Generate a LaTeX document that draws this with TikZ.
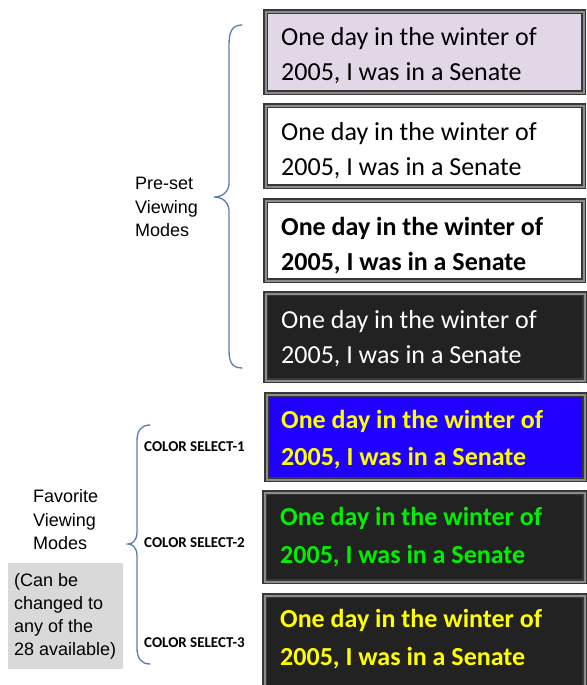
\documentclass[tikz,border=0pt]{standalone}
\usepackage{fontspec}
\setmainfont{Carlito}
\newfontfamily\arialf{Liberation Sans}
\definecolor{lav}{RGB}{226,215,230}
\definecolor{dk}{RGB}{34,34,34}
\definecolor{bl}{RGB}{32,0,255}
\definecolor{ye}{RGB}{255,255,0}
\definecolor{gr}{RGB}{0,240,0}
\definecolor{brc}{RGB}{90,125,175}
\definecolor{gbox}{RGB}{217,217,217}
\begin{document}
\begin{tikzpicture}[x=1pt,y=-1pt,
  panel/.style={rectangle, draw=black!78, line width=1.3pt, double=black!45, double distance=1.8pt, anchor=north west, inner sep=0pt},
  ptext/.style={anchor=base west, inner sep=0pt, font=\fontsize{26}{35}\selectfont},
  btext/.style={ptext, font=\fontsize{26}{35}\selectfont\bfseries},
  label/.style={anchor=west, align=left, inner sep=0pt, font=\arialf\fontsize{18}{23.5}\selectfont, text=black},
  csel/.style={anchor=west, inner sep=0pt, font=\fontsize{15}{18}\selectfont\bfseries, text=black},
  brace/.style={draw=brc, line width=1.3pt, line cap=round}]
\useasboundingbox (0,0) rectangle (586,685);
% panels
\node[panel, fill=lav,   minimum width=318pt, minimum height=81pt] (b1) at (265,11) {};
\node[panel, fill=white, minimum width=318pt, minimum height=81pt] (b2) at (265,105) {};
\node[panel, fill=white, minimum width=318pt, minimum height=80pt] (b3) at (265,200) {};
\node[panel, fill=dk,    minimum width=319pt, minimum height=87pt] (b4) at (265,293) {};
\node[panel, fill=bl,    minimum width=318pt, minimum height=85pt] (b5) at (266,394) {};
\node[panel, fill=dk,    minimum width=320pt, minimum height=89pt] (b6) at (264,492) {};
\node[panel, fill=dk,    minimum width=320pt, minimum height=105pt] (b7) at (264,595) {};
% panel texts
\node[ptext] (t1a) at ([shift={(16,35)}]b1.north west) {One day in the winter of};
\node[ptext] (t1b) at ([shift={(16,70)}]b1.north west) {2005, I was in a Senate};
\node[ptext] (t2a) at ([shift={(16,35)}]b2.north west) {One day in the winter of};
\node[ptext] (t2b) at ([shift={(16,70)}]b2.north west) {2005, I was in a Senate};
\node[btext] (t3a) at ([shift={(16,35)}]b3.north west) {One day in the winter of};
\node[btext] (t3b) at ([shift={(16,70)}]b3.north west) {2005, I was in a Senate};
\node[ptext, text=white] (t4a) at ([shift={(16,35)}]b4.north west) {One day in the winter of};
\node[ptext, text=white] (t4b) at ([shift={(16,70)}]b4.north west) {2005, I was in a Senate};
\node[btext, text=ye] (t5a) at ([shift={(15,34)}]b5.north west) {One day in the winter of};
\node[btext, text=ye] (t5b) at ([shift={(15,71)}]b5.north west) {2005, I was in a Senate};
\node[btext, text=gr] (t6a) at ([shift={(16,33)}]b6.north west) {One day in the winter of};
\node[btext, text=gr] (t6b) at ([shift={(16,71)}]b6.north west) {2005, I was in a Senate};
\node[btext, text=ye] (t7a) at ([shift={(16,32)}]b7.north west) {One day in the winter of};
\node[btext, text=ye] (t7b) at ([shift={(16,70)}]b7.north west) {2005, I was in a Senate};
% left labels
\node[label] (pre) at (135,207) {Pre-set\\Viewing\\Modes};
\node[label] (fav) at (33,520) {Favorite\\Viewing\\Modes};
\node[fill=gbox, anchor=north west, minimum width=115pt, minimum height=106pt, inner sep=0pt] (gb) at (8,563) {};
\node[label, font=\arialf\fontsize{18}{23}\selectfont] (gt) at ([xshift=6]gb.west) {(Can be\\changed to\\any of the\\28 available)};
\node[csel] (cs1) at (144,447) {COLOR SELECT-1};
\node[csel] (cs2) at (144,543) {COLOR SELECT-2};
\node[csel] (cs3) at (144,643) {COLOR SELECT-3};
% braces
\coordinate (p1) at (242,25);
\coordinate (p2) at (214,197);
\coordinate (p3) at (242,368);
\draw[brace] (p1) .. controls (232,25) and (229,32) .. (229,45) -- (229,183)
  .. controls (229,192) and (222,197) .. (p2)
  .. controls (222,197) and (229,202) .. (229,211) -- (229,350)
  .. controls (229,362) and (232,368) .. (p3);
\coordinate (q1) at (150,425);
\coordinate (q2) at (128,544);
\coordinate (q3) at (150,664);
\draw[brace] (q1) .. controls (141,425) and (137,431) .. (137,441) -- (137,532)
  .. controls (137,540) and (133,544) .. (q2)
  .. controls (133,544) and (137,548) .. (137,556) -- (137,648)
  .. controls (137,658) and (141,664) .. (q3);
\end{tikzpicture}
\end{document}
